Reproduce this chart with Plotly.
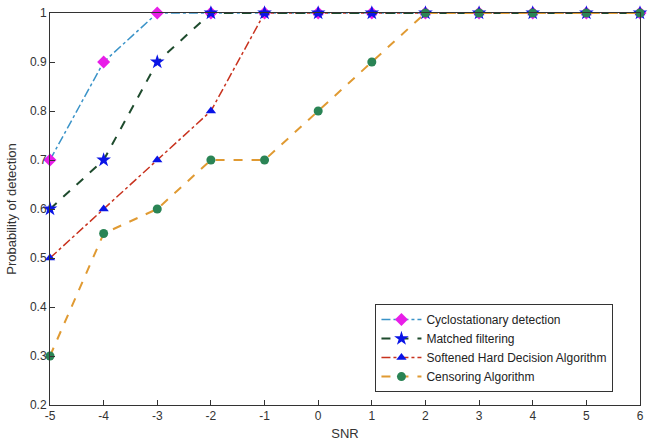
import plotly.graph_objects as go

snr = [-5, -4, -3, -2, -1, 0, 1, 2, 3, 4, 5, 6]
cyclo = [0.7, 0.9, 1, 1, 1, 1, 1, 1, 1, 1, 1, 1]
matched = [0.6, 0.7, 0.9, 1, 1, 1, 1, 1, 1, 1, 1, 1]
softened = [0.5, 0.6, 0.7, 0.8, 1, 1, 1, 1, 1, 1, 1, 1]
censoring = [0.3, 0.55, 0.6, 0.7, 0.7, 0.8, 0.9, 1, 1, 1, 1, 1]
y_ticks = [0.2, 0.3, 0.4, 0.5, 0.6, 0.7, 0.8, 0.9, 1]

font = "Liberation Sans, Arial, sans-serif"

fig = go.Figure()

# drawing order chosen so the overlaps at 1.0 look like the original;
# legendrank keeps the legend in the original order
fig.add_trace(go.Scatter(
    x=snr, y=cyclo, name="Cyclostationary detection", legendrank=1,
    mode="lines+markers", cliponaxis=False,
    line=dict(color="#3a93c8", width=1.5, dash="dashdot"),
    marker=dict(symbol="diamond", size=10, color="#e81ee8"),
))
fig.add_trace(go.Scatter(
    x=snr, y=softened, name="Softened Hard Decision Algorithm", legendrank=3,
    mode="lines+markers", cliponaxis=False,
    line=dict(color="#c8321e", width=1.5, dash="dashdot"),
    marker=dict(symbol="triangle-up", size=9, color="#0a14e6"),
))
fig.add_trace(go.Scatter(
    x=snr, y=matched, name="Matched filtering", legendrank=2,
    mode="lines+markers", cliponaxis=False,
    line=dict(color="#1e4b2d", width=2, dash="dash"),
    marker=dict(symbol="star", size=11, color="#0a14e6"),
))
fig.add_trace(go.Scatter(
    x=snr, y=censoring, name="Censoring Algorithm", legendrank=4,
    mode="lines+markers", cliponaxis=False,
    line=dict(color="#e09a32", width=2, dash="dash"),
    marker=dict(symbol="circle", size=9, color="#2a8455"),
))

axis_common = dict(
    showline=True, linecolor="#333333", linewidth=1, mirror=True,
    ticks="inside", ticklen=5, tickcolor="#333333",
    showgrid=False, zeroline=False, automargin=False,
    ticklabeloverflow="allow",
    tickfont=dict(family=font, size=12, color="#333333"),
)

fig.update_xaxes(
    range=[-5, 6], tickvals=snr, ticktext=[str(v) for v in snr],
    title=dict(text="SNR", font=dict(family=font, size=13, color="#333333"), standoff=6),
    **axis_common,
)
fig.update_yaxes(
    range=[0.2, 1], tickvals=y_ticks, ticktext=[f"{v:g}" for v in y_ticks],
    title=dict(text="Probability of detection", font=dict(family=font, size=13, color="#333333"), standoff=10),
    **axis_common,
)

fig.update_layout(
    width=650, height=447,
    margin=dict(l=50, r=10, t=13, b=42),
    paper_bgcolor="white", plot_bgcolor="white",
    font=dict(family=font, color="#333333"),
    legend=dict(
        x=0.955, y=0.033, xanchor="right", yanchor="bottom",
        bgcolor="white", bordercolor="#333333", borderwidth=1,
        font=dict(family=font, size=12, color="#222222"),
        tracegroupgap=0, itemwidth=40,
    ),
)

# drop the default 8px page margin so the figure sits at the top-left corner
fig.write_html(
    "out.html",
    config={"displayModeBar": False},
    post_script="document.body.style.margin = '0';",
)
